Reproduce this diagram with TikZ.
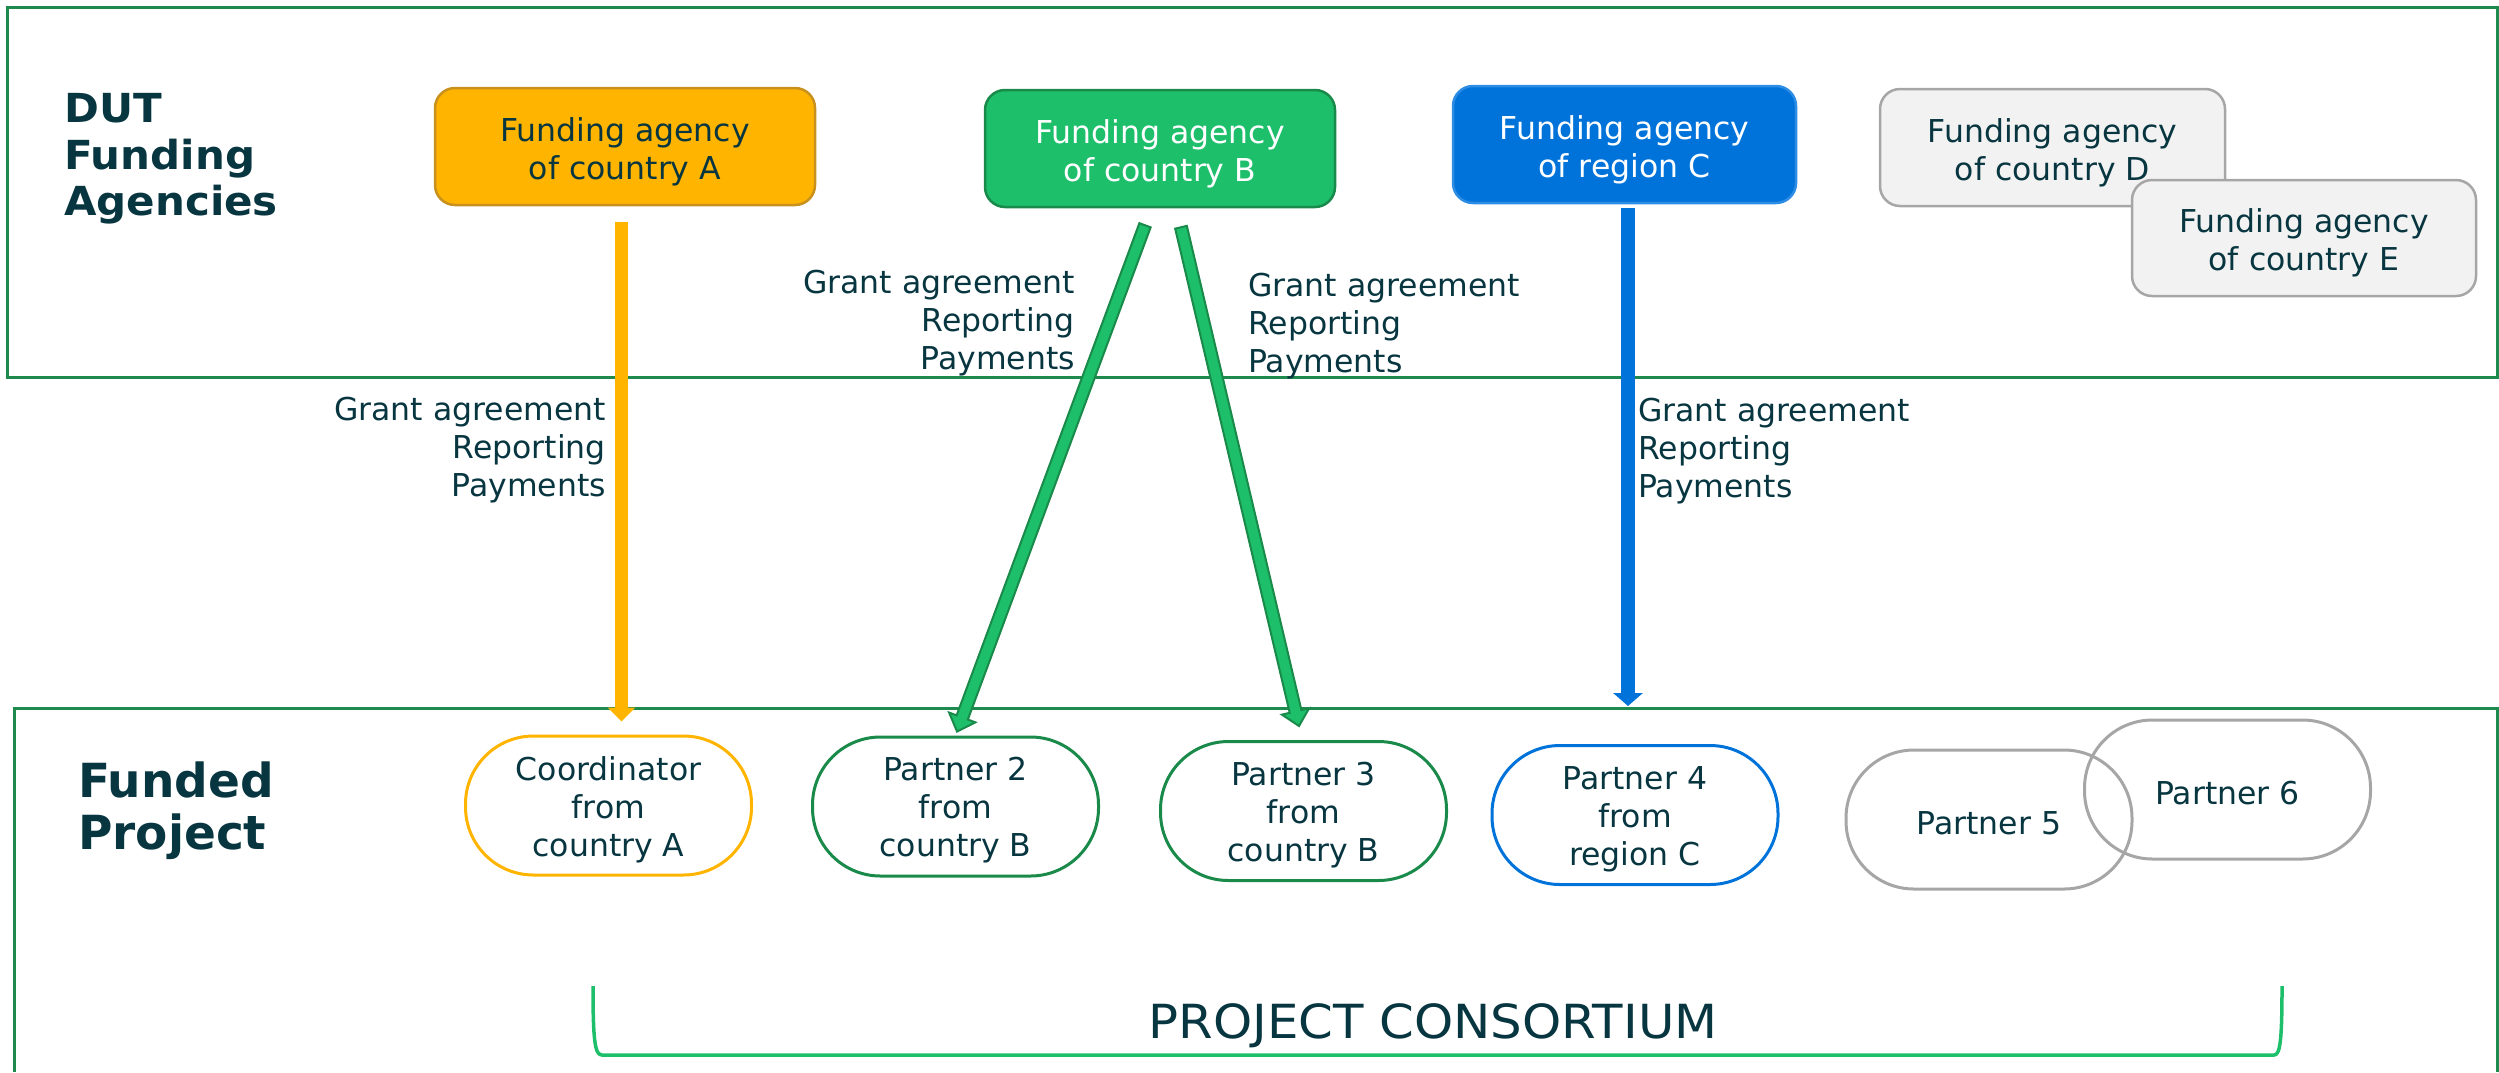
\documentclass[tikz,border=0pt]{standalone}
\usepackage{fontspec}
\setmainfont{DejaVu Sans}
\newfontfamily\headfont[FakeStretch=1.05]{DejaVu Sans Bold}
\newfontfamily\consfont[FakeStretch=1.06]{DejaVu Sans}
\usetikzlibrary{arrows.meta,calc}
\definecolor{txt}{RGB}{8,54,64}
\definecolor{amber}{RGB}{255,180,0}
\definecolor{amberdk}{RGB}{200,145,30}
\definecolor{gfill}{RGB}{29,191,107}
\definecolor{gdark}{RGB}{26,138,74}
\definecolor{panelc}{RGB}{30,138,78}
\definecolor{blu}{RGB}{0,115,218}
\definecolor{blulight}{RGB}{45,140,228}
\definecolor{grayfill}{RGB}{242,242,242}
\definecolor{grayline}{RGB}{166,166,166}
\tikzset{
  agency/.style={rounded corners=20pt, minimum height=117pt, inner sep=0pt, line width=2.5pt},
  agtxt/.style={font=\fontsize{31.5pt}{38pt}\selectfont, align=center, inner sep=0pt, yshift=-5pt},
  partner/.style={rounded corners=68pt, minimum width=286pt, minimum height=139pt, inner sep=0pt,
    line width=3pt},
  ptxt/.style={font=\fontsize{31.5pt}{38pt}\selectfont, align=center, inner sep=0pt, text=txt, yshift=-4pt},
  lbl/.style={font=\fontsize{31.5pt}{38pt}\selectfont, text=txt, inner sep=0pt},
  heading/.style={text=txt, inner sep=0pt, align=left},
  panel/.style={draw=panelc, line width=3pt},
  garrow/.style={fill=gfill, draw=gdark, line width=2pt, line join=miter},
}
\begin{document}
\begin{tikzpicture}[x=1pt, y=-1pt]
\useasboundingbox (0,0) rectangle (2499,1072);

% panels
\draw[panel] (7,7) rectangle (2497,377);
\draw[panel] (14,1072) -- (14,708) -- (2497,708) -- (2497,1072);

% headings
\node[heading, anchor=west, font=\fontsize{40pt}{46.5pt}\headfont] (hdut) at (64,159) {DUT\\Funding\\Agencies};
\node[heading, anchor=west, font=\fontsize{47pt}{52pt}\selectfont\bfseries] (hproj) at (78,811) {Funded\\Project};

% agencies
\node[agency, minimum width=380pt, fill=amber, draw=amberdk,
  label={[agtxt, text=txt]center:{Funding agency\\of country A}}] (fA) at (625,146.5) {};
\node[agency, minimum width=350pt, fill=gfill, draw=gdark,
  label={[agtxt, text=white]center:{Funding agency\\of country B}}] (fB) at (1160,148.5) {};
\node[agency, minimum width=343pt, fill=blu, draw=blulight,
  label={[agtxt, text=white]center:{Funding agency\\of region C}}] (fC) at (1624.5,144.5) {};
\node[agency, minimum width=345pt, fill=grayfill, draw=grayline,
  label={[agtxt, text=txt]center:{Funding agency\\of country D}}] (fD) at (2052.5,147.5) {};
\node[agency, minimum width=344pt, minimum height=116pt, fill=grayfill, draw=grayline,
  label={[agtxt, text=txt]center:{Funding agency\\of country E}}] (fE) at (2304,238) {};

% partners
\node[partner, draw=amber, label={[ptxt]center:{Coordinator\\from\\country A}}] (pA) at (608.5,805.5) {};
\node[partner, draw=gdark, label={[ptxt]center:{Partner 2\\from\\country B}}] (p2) at (955.5,806.5) {};
\node[partner, draw=gdark, label={[ptxt]center:{Partner 3\\from\\country B}}] (p3) at (1303.5,811) {};
\node[partner, draw=blu, label={[ptxt]center:{Partner 4\\from\\region C}}] (p4) at (1635,815) {};
\node[partner, draw=grayline, label={[ptxt]center:{Partner 5}}] (p5) at (1989,819.5) {};
\node[partner, draw=grayline, label={[ptxt]center:{Partner 6}}] (p6) at (2227.5,789.5) {};

% connector end points
\coordinate (sA) at ($(fA.south)+(-3.5,16)$);
\coordinate (tA) at ($(pA.north)+(13,-13)$);
\coordinate (sC) at ($(fC.south)+(3.5,4)$);
\coordinate (tC) at ($(p4.north)+(-7,-38)$);
\coordinate (s2) at ($(fB.south)+(-15,17)$);
\coordinate (t2) at ($(p2.north)+(1.5,-4)$);
\coordinate (s3) at ($(fB.south)+(21,19)$);
\coordinate (t3) at ($(p3.north)+(-4.5,-14)$);
\coordinate (h2) at ($(t2)!15pt!(s2)$);
\coordinate (h3) at ($(t3)!15pt!(s3)$);

% straight arrows
\draw[amber, line width=13pt, -{Triangle[width=27pt,length=14pt]}] (sA) -- (tA);
\draw[blu, line width=14pt, -{Triangle[width=29pt,length=13pt]}] (sC) -- (tC);

% green outlined arrows
\draw[garrow] ($(s2)!6pt!90:(t2)$) -- ($(h2)!6pt!90:(t2)$) -- ($(h2)!14pt!90:(t2)$) -- (t2)
  -- ($(h2)!14pt!-90:(t2)$) -- ($(h2)!6pt!-90:(t2)$) -- ($(s2)!6pt!-90:(t2)$) -- cycle;
\draw[garrow] ($(s3)!6pt!90:(t3)$) -- ($(h3)!6pt!90:(t3)$) -- ($(h3)!14pt!90:(t3)$) -- (t3)
  -- ($(h3)!14pt!-90:(t3)$) -- ($(h3)!6pt!-90:(t3)$) -- ($(s3)!6pt!-90:(t3)$) -- cycle;

% arrow labels
\node[lbl, anchor=east, align=right] (lA) at (606,450) {Grant agreement\\Reporting\\Payments};
\node[lbl, anchor=east, align=right] (l2) at (1075,323) {Grant agreement\\Reporting\\Payments};
\node[lbl, anchor=west, align=left] (l3) at (1248,326) {Grant agreement\\Reporting\\Payments};
\node[lbl, anchor=west, align=left] (lC) at (1638,451) {Grant agreement\\Reporting\\Payments};

% consortium bracket
\coordinate (bl) at (593,986);
\coordinate (br) at (2282,986);
\draw[gfill, line width=3.5pt] (bl) .. controls (593,1042) and (595,1055) .. (602,1055) -- (2274,1055) .. controls (2280,1055) and (2282,1042) .. (br);
\node[text=txt, font=\fontsize{47pt}{52pt}\consfont, anchor=base, inner sep=0pt] (cons) at (1433,1038) {PROJECT CONSORTIUM};
\end{tikzpicture}
\end{document}
